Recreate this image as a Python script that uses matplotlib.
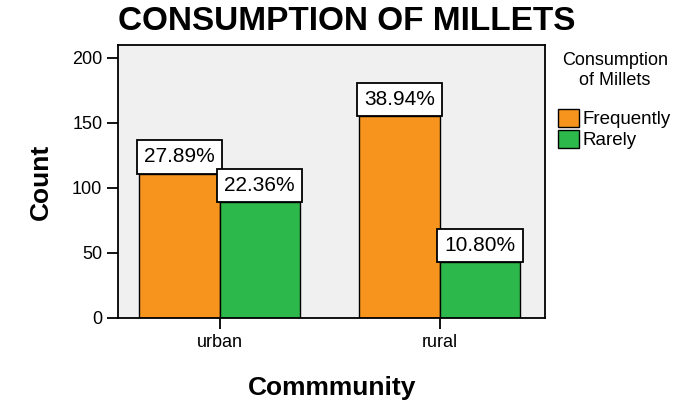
import numpy as np
import matplotlib as mpl
import matplotlib.pyplot as plt

communities = ['urban', 'rural']
frequently = [111, 155]
rarely = [89, 43]
freq_pct = ['27.89%', '38.94%']
rare_pct = ['22.36%', '10.80%']

mpl.rcParams['font.family'] = ['Liberation Sans', 'DejaVu Sans']

fig = plt.figure(figsize=(7, 4), dpi=100)
ax = fig.add_axes([0.169, 0.205, 0.61, 0.683])
ax.set_facecolor('#f0f0f0')

x = np.arange(len(communities))
w = 0.365
b1 = ax.bar(x - w / 2, frequently, w, color='#f7941d', edgecolor='black', linewidth=1, label='Frequently')
b2 = ax.bar(x + w / 2, rarely, w, color='#2db84b', edgecolor='black', linewidth=1, label='Rarely')

box = dict(boxstyle='square,pad=0.35', facecolor='white', edgecolor='black', linewidth=1.3)
for bars, labels in [(b1, freq_pct), (b2, rare_pct)]:
    for rect, lab in zip(bars, labels):
        ax.text(rect.get_x() + rect.get_width() / 2, rect.get_height() + 5.5, lab,
                ha='center', va='bottom', fontsize=15, bbox=box, zorder=5)

ax.set_xlim(-0.46, 1.48)
ax.set_ylim(0, 210)
ax.set_yticks([0, 50, 100, 150, 200])
ax.set_xticks(x)
ax.set_xticklabels(communities)
ax.tick_params(axis='both', labelsize=13, length=8, width=1.3, colors='black')
for s in ax.spines.values():
    s.set_linewidth(1.3)

ax.set_ylabel('Count', fontsize=19, fontweight='bold', labelpad=14)
ax.set_xlabel('Commmunity', fontsize=19, fontweight='bold', labelpad=18)
fig.text(0.495, 0.945, 'CONSUMPTION OF MILLETS', ha='center', va='center', fontsize=24, fontweight='bold')

leg = ax.legend(title='Consumption\nof Millets', loc='upper left', bbox_to_anchor=(1.0, 1.02),
                frameon=False, fontsize=13.5, title_fontsize=13, handlelength=1.1, handleheight=1.1,
                handletextpad=0.2, labelspacing=0.1, borderaxespad=0.3)
leg.get_title().set_multialignment('center')
leg._legend_box.sep = 14

fig.savefig('out.png', dpi=100)
